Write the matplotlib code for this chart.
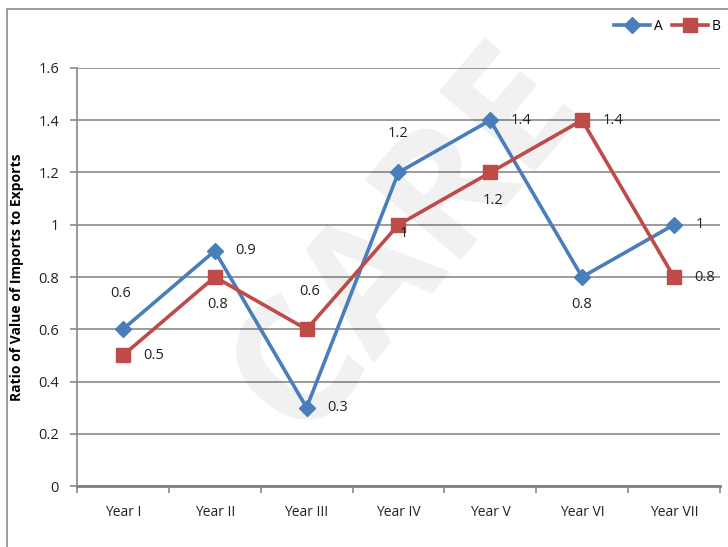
import matplotlib.pyplot as plt
import numpy as np

years = ["Year I", "Year II", "Year III", "Year IV", "Year V", "Year VI", "Year VII"]
series_a = [0.6, 0.9, 0.3, 1.2, 1.4, 0.8, 1.0]
series_b = [0.5, 0.8, 0.6, 1.0, 1.2, 1.4, 0.8]
labels_a = ["0.6", "0.9", "0.3", "1.2", "1.4", "0.8", "1"]
labels_b = ["0.5", "0.8", "0.6", "1", "1.2", "1.4", "0.8"]
yticks = [0, 0.2, 0.4, 0.6, 0.8, 1, 1.2, 1.4, 1.6]

# label offsets (points) relative to each marker
off_a = [(-2, 26), (22, 0), (22, 0), (0, 28), (22, 0), (0, -20), (19, 0)]
off_b = [(22, 0), (2, -20), (2, 27), (4, -6), (2, -20), (22, 0), (22, 0)]

col_a = "#4a7ebb"
col_b = "#be4b48"

plt.rcParams['font.family'] = ['Open Sans', 'DejaVu Sans']

fig = plt.figure(figsize=(7.28, 5.47), dpi=100)
ax = fig.add_axes([0.1058, 0.1115, 0.883, 0.7642])

# page border
fig.patches.append(plt.Rectangle((7/728, -0.05), 1.1, 1 - 9/547 + 0.05, transform=fig.transFigure,
                                 fill=False, edgecolor="#8c8c8c", linewidth=1.2))

# watermark, behind the lines
ax.text(0.56, 0.56, "CARE", transform=fig.transFigure, fontsize=125, color="#000000", alpha=0.06,
        rotation=50, ha="center", va="center", fontweight="bold", zorder=1, clip_on=False)

x = np.arange(len(years))
ax.plot(x, series_a, color=col_a, lw=2.6, marker="D", ms=8, label="A", zorder=3)
ax.plot(x, series_b, color=col_b, lw=2.6, marker="s", ms=9.5, label="B", zorder=3)

for i in range(len(years)):
    ax.annotate(labels_a[i], (x[i], series_a[i]), xytext=off_a[i], textcoords="offset points",
                ha="center", va="center", fontsize=10.5, color="#222222", zorder=4)
    ax.annotate(labels_b[i], (x[i], series_b[i]), xytext=off_b[i], textcoords="offset points",
                ha="center", va="center", fontsize=10.5, color="#222222", zorder=4)

ax.set_xlim(-0.5, len(years) - 0.5)
ax.set_ylim(0, 1.6)
ax.set_yticks(yticks)
ax.set_yticklabels([f"{v:g}" for v in yticks], fontsize=10.5, color="#222222")
ax.set_xticks(x)
ax.set_xticklabels(years, fontsize=10, color="#222222")
ax.set_xticks(np.arange(-0.5, len(years)), minor=True)
ax.tick_params(axis="x", which="major", length=0, pad=14)
ax.tick_params(axis="x", which="minor", length=5, color="#888888", width=1.2)
ax.tick_params(axis="y", length=5, color="#888888", width=1.2, pad=8)

ax.grid(axis="y", color="#8a8a8a", lw=1.2)
ax.set_axisbelow(True)
for s in ["top", "right"]:
    ax.spines[s].set_visible(False)
ax.spines["left"].set_color("#888888")
ax.spines["left"].set_linewidth(1.2)
ax.spines["bottom"].set_color("#808080")
ax.spines["bottom"].set_linewidth(2)

ax.set_ylabel("Ratio of Value of Imports to Exports", fontsize=10, fontweight="bold", labelpad=10)

ax.legend(loc="upper right", bbox_to_anchor=(1.01, 1.13), ncol=2, frameon=False, fontsize=10,
          handlelength=2.6, columnspacing=0.6, handletextpad=0.3, borderaxespad=0)

fig.savefig("out.png", dpi=100)
